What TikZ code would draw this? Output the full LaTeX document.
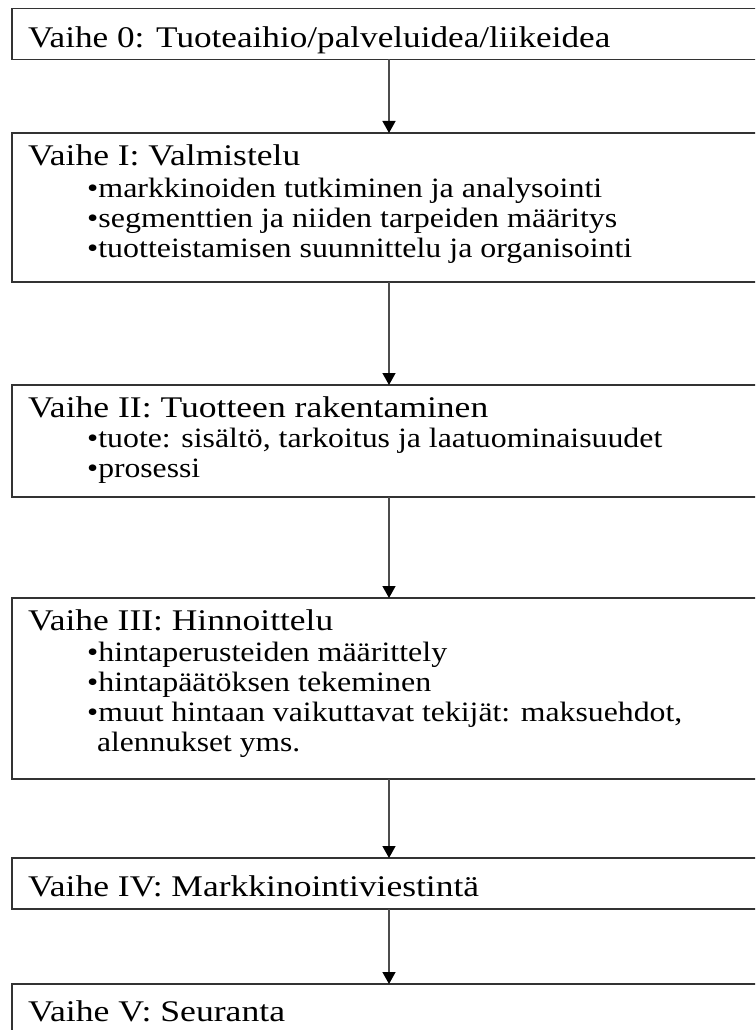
\documentclass[tikz,border=0pt]{standalone}
\usepackage{graphicx}
\usepackage{fontspec}
\setmainfont{Liberation Serif}
\usetikzlibrary{arrows.meta}
% text widened to a given width, height kept
\newcommand{\spread}[2]{\resizebox{#1pt}{\height}{#2}}
\begin{document}
\begin{tikzpicture}[x=1pt,y=-1pt,
  stage/.style={draw=black!80,line width=1.4pt,anchor=north west,
    minimum width=775pt,inner sep=0pt,outer sep=0pt},
  head/.style={anchor=base west,inner sep=0pt,font=\fontsize{30}{31}\selectfont},
  entry/.style={anchor=base west,inner sep=0pt,font=\fontsize{28}{30}\selectfont},
  flow/.style={draw=black!70,line width=1.4pt,
    -{Triangle[width=13pt,length=12pt,color=black]}}]
\useasboundingbox (0,0) rectangle (755,1030);
\clip (0,0) rectangle (755,1030);

% stage boxes (they run past the right and bottom edges)
\node[stage,minimum height=50.6pt] (b0) at (12,8.7) {};
\node[stage,minimum height=149pt]  (b1) at (12,133) {};
\node[stage,minimum height=112pt]  (b2) at (12,385) {};
\node[stage,minimum height=181pt]  (b3) at (12,598) {};
\node[stage,minimum height=51pt]   (b4) at (12,858) {};
\node[stage,minimum height=80pt]   (b5) at (12,984) {};

% texts
\node[head] (t0) at (28,48) {\spread{582}{Vaihe 0: Tuoteaihio/palveluidea/liikeidea}};

\node[head]  (t1)  at (28,165) {\spread{272}{Vaihe I: Valmistelu}};
\node[entry] (t1a) at (87,197) {\spread{515}{•markkinoiden tutkiminen ja analysointi}};
\node[entry] (t1b) at (87,227) {\spread{530}{•segmenttien ja niiden tarpeiden määritys}};
\node[entry] (t1c) at (87,257) {\spread{545}{•tuotteistamisen suunnittelu ja organisointi}};

\node[head]  (t2)  at (28,417) {\spread{460}{Vaihe II: Tuotteen rakentaminen}};
\node[entry] (t2a) at (87,447) {\spread{575}{•tuote: sisältö, tarkoitus ja laatuominaisuudet}};
\node[entry] (t2b) at (87,477) {\spread{113}{•prosessi}};

\node[head]  (t3)  at (28,630) {\spread{305}{Vaihe III: Hinnoittelu}};
\node[entry] (t3a) at (87,661) {\spread{360}{•hintaperusteiden määrittely}};
\node[entry] (t3b) at (87,691) {\spread{344}{•hintapäätöksen tekeminen}};
\node[entry] (t3c) at (87,721) {\spread{595}{•muut hintaan vaikuttavat tekijät: maksuehdot,}};
\node[entry] (t3d) at (97,751) {\spread{203}{alennukset yms.}};

\node[head] (t4) at (28,896) {\spread{451}{Vaihe IV: Markkinointiviestintä}};
\node[head] (t5) at (28,1021) {\spread{257}{Vaihe V: Seuranta}};

% arrows between the stages
\coordinate (ax) at (389,0);
\draw[flow] (b0.south west -| ax) -- (b1.north west -| ax);
\draw[flow] (b1.south west -| ax) -- (b2.north west -| ax);
\draw[flow] (b2.south west -| ax) -- (b3.north west -| ax);
\draw[flow] (b3.south west -| ax) -- (b4.north west -| ax);
\draw[flow] (b4.south west -| ax) -- (b5.north west -| ax);
\end{tikzpicture}
\end{document}
